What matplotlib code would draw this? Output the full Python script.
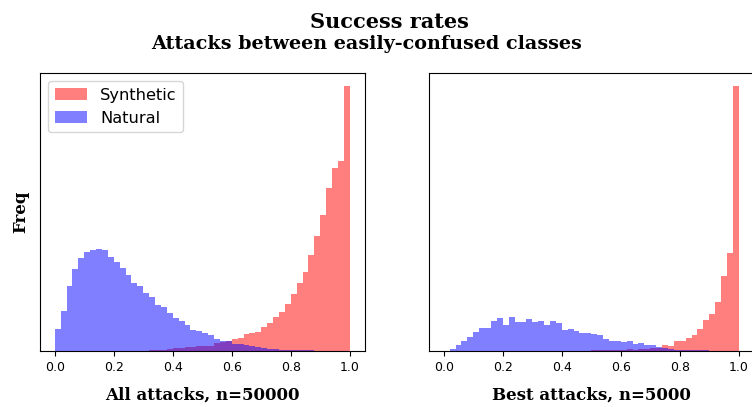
import numpy as np
import matplotlib
matplotlib.use("Agg")
import matplotlib.pyplot as plt

# 50 bins over the success rate range [0, 1]
bin_edges = np.linspace(0.0, 1.0, 51)

# frequencies (arbitrary units, y axis is hidden)
all_synthetic = [0, 0, 0, 0, 0, 0, 0, 0, 0, 0,
                 0, 0, 0, 0, 0, 0, 1, 1, 1, 2,
                 2.7, 2.7, 3.7, 3.7, 4.7, 4.7, 4.7, 7.7, 9, 10,
                 12, 13, 17, 18, 19, 24, 28, 34, 39, 47,
                 57, 68, 79, 96, 115, 136, 163, 182, 189, 264]
all_natural = [22, 40, 65, 82, 93, 99, 101, 102, 101, 94,
               89, 83, 76, 68, 65, 58, 54, 46, 44, 38,
               32.7, 30, 26, 21, 20, 18, 16, 12, 10, 10,
               7, 7, 6, 5, 4, 3, 2.3, 1.7, 1.3, 1,
               1, 1, 0.5, 0.5, 0, 0, 0, 0, 0, 0]
best_synthetic = [0, 0, 0, 0, 0, 0, 0, 0, 0, 0,
                  0, 0, 0, 0, 0, 0, 0, 0, 0, 0,
                  0, 0, 0, 0, 0, 0.5, 0.5, 1, 1, 1,
                  1, 2, 1, 2, 2, 3, 3, 6, 5, 10,
                  10, 13, 16, 22, 31, 37, 49, 75, 98, 264]
best_natural = [0, 1.5, 5.5, 9.5, 13.5, 18.5, 22.5, 22.5, 29.5, 32.5,
                25.5, 33.5, 28.5, 28.5, 31.5, 28.5, 29.5, 25.5, 29.5, 27.5,
                20.5, 21.5, 19.5, 17.5, 17.5, 16.5, 15.5, 12, 10, 9.5,
                9, 9.5, 6.5, 7.5, 5.5, 6, 4, 3, 2, 1,
                1, 1, 1, 0.5, 1, 0.3, 0.3, 0, 0, 0]

panel_labels = ["All attacks, n=50000", "Best attacks, n=5000"]
series_names = ["Synthetic", "Natural"]

serif = "DejaVu Serif"

fig = plt.figure(figsize=(7.52, 4.07), dpi=100)
W, H = 752, 407
ax1 = fig.add_axes([40 / W, (H - 351) / H, 324.5 / W, 278 / H])
ax2 = fig.add_axes([429 / W, (H - 351) / H, 324.5 / W, 278 / H])

centers = (bin_edges[:-1] + bin_edges[1:]) / 2
panels = [(ax1, all_synthetic, all_natural), (ax2, best_synthetic, best_natural)]
for ax, synth, nat in panels:
    ax.hist(centers, bins=bin_edges, weights=synth, color="red", alpha=0.5, label=series_names[0])
    ax.hist(centers, bins=bin_edges, weights=nat, color="blue", alpha=0.5, label=series_names[1])
    ax.set_yticks([])
    ax.set_xticks([0.0, 0.2, 0.4, 0.6, 0.8, 1.0])
    ax.tick_params(axis="x", labelsize=9)

ax1.set_xlabel(panel_labels[0], fontfamily=serif, fontweight="bold", fontsize=12, labelpad=9)
ax2.set_xlabel(panel_labels[1], fontfamily=serif, fontweight="bold", fontsize=12, labelpad=9)
ax1.set_ylabel("Freq", fontfamily=serif, fontweight="bold", fontsize=12, labelpad=8)
ax1.legend(loc="upper left", fontsize=11.7)

fig.text(389.5 / W, 1 - 28 / H, "Success rates", ha="center", va="baseline",
         fontfamily=serif, fontweight="bold", fontsize=15)
fig.text(366.5 / W, 1 - 49 / H, "Attacks between easily-confused classes", ha="center", va="baseline",
         fontfamily=serif, fontweight="bold", fontsize=13.8)

fig.savefig("out.png", dpi=100)
